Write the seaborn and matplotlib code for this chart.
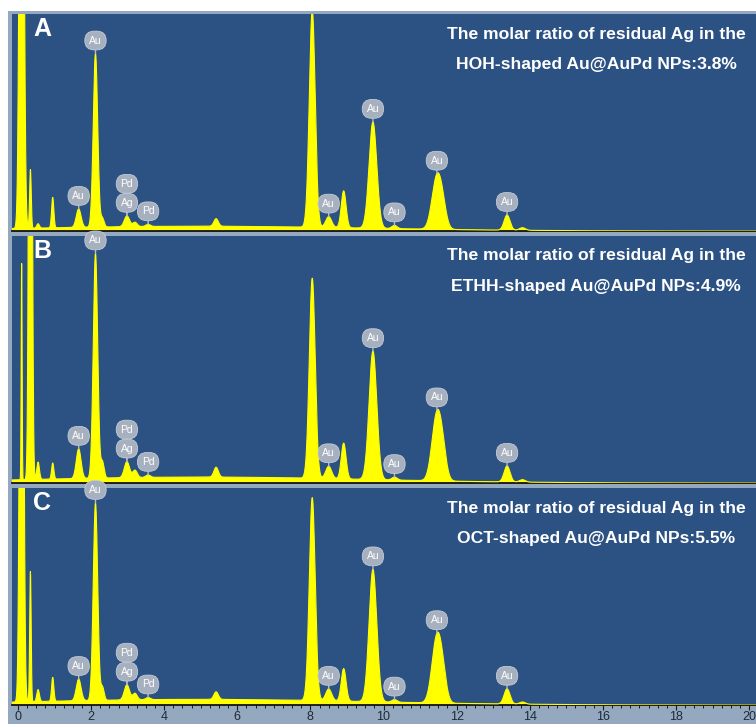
import numpy as np
import pandas as pd
import matplotlib
matplotlib.use("Agg")
import matplotlib.pyplot as plt
from matplotlib.patches import Rectangle
from matplotlib.ticker import MultipleLocator
import seaborn as sns

# ---------------- data ----------------
# X-ray lines in the EDS spectra (keV)
peak_energy = [0.10, 0.34, 0.55, 0.95, 1.66, 2.12, 2.31, 2.98, 3.20, 3.56,
               5.42, 8.05, 8.50, 8.91, 9.71, 10.30, 11.44, 11.60, 13.38, 13.80]
# peak widths (sigma, keV); the two lowest lines differ per panel
peak_sigma = [None, None, 0.035, 0.03, 0.065, 0.06, 0.045, 0.07, 0.06, 0.06,
              0.06, 0.08, 0.08, 0.065, 0.105, 0.07, 0.125, 0.11, 0.08, 0.08]
low_sigma_A = [0.05, 0.022]
low_sigma_B = [0.012, 0.037]
low_sigma_C = [0.045, 0.02]

# peak heights (counts, panel full scale = 1000)
heights_A = [4000, 270, 20, 140, 85, 800, 40, 50, 20, 10,
             35, 1000, 50, 170, 490, 15, 210, 110, 70, 12]
heights_B = [875, 4000, 70, 65, 120, 910, 65, 65, 30, 10,
             40, 810, 50, 145, 520, 12, 235, 120, 65, 10]
heights_C = [4000, 600, 55, 110, 100, 910, 60, 70, 30, 10,
             35, 935, 55, 150, 610, 12, 265, 135, 70, 10]
# continuum (bremsstrahlung) level, counts
continuum_A = 22
continuum_B = 24
continuum_C = 26

# peak identification labels
label_energy = [1.66, 2.12, 2.98, 2.98, 3.56, 8.50, 9.71, 10.30, 11.46, 13.38]
label_element = ["Au", "Au", "Ag", "Pd", "Pd", "Au", "Au", "Au", "Au", "Au"]

panel_letters = ["A", "B", "C"]
ratio_line1 = "The molar ratio of residual Ag in the"
ratio_line2 = ["HOH-shaped Au@AuPd NPs:3.8%",
               "ETHH-shaped Au@AuPd NPs:4.9%",
               "OCT-shaped Au@AuPd NPs:5.5%"]

x_ticks = list(range(0, 21, 2))

# ---------------- style ----------------
sns.set_theme(style="white")
plt.rcParams["font.family"] = ["Liberation Sans", "DejaVu Sans"]

W, H = 756, 724
fig = plt.figure(figsize=(W / 100, H / 100), dpi=100)
fig.patch.set_facecolor("white")
fig.add_artist(Rectangle((8 / W, 0), 1 - 8 / W, 1 - 11 / H,
                         transform=fig.transFigure, facecolor="#94a8bf",
                         edgecolor="none", zorder=0))

PANEL_BG = "#2c5283"
YELLOW = "#ffff00"

# panel pixel extents (top, bottom)
panel_px = [(14, 231), (236, 483), (488, 705)]
left_px = 12
xlim = (-0.164, 20.19)

energy = np.linspace(-0.2, 20.3, 4101)


def spectrum(e, heights, low_sigma, cont):
    e = np.asarray(e, dtype=float)
    y = cont * np.exp(-((e - 5.0) ** 2) / (2 * 4.5 ** 2))
    for i, (E, h) in enumerate(zip(peak_energy, heights)):
        s = low_sigma[i] if i < 2 else peak_sigma[i]
        y = y + h * np.exp(-((e - E) ** 2) / (2 * s ** 2))
    return y


panels = [
    (heights_A, low_sigma_A, continuum_A),
    (heights_B, low_sigma_B, continuum_B),
    (heights_C, low_sigma_C, continuum_C),
]

axes = []
for k, ((top, bot), (hts, lows, cont)) in enumerate(zip(panel_px, panels)):
    ax = fig.add_axes([left_px / W, 1 - bot / H, 1 - left_px / W, (bot - top) / H])
    axes.append(ax)
    ax.set_facecolor(PANEL_BG)
    counts = spectrum(energy, hts, lows, cont)
    df = pd.DataFrame({"energy": energy, "counts": counts})
    ax.fill_between(df["energy"], 0, df["counts"], color=YELLOW, lw=0, zorder=2)
    sns.lineplot(data=df, x="energy", y="counts", ax=ax, color=YELLOW,
                 lw=0.8, estimator=None, zorder=3)
    ax.set_xlim(*xlim)
    ax.set_ylim(0, 1000)
    ax.set_xlabel("")
    ax.set_ylabel("")
    ax.set_yticks([])
    for sp in ["top", "right", "left"]:
        ax.spines[sp].set_visible(False)
    ax.spines["bottom"].set_color("#111111")
    ax.spines["bottom"].set_linewidth(1.3)

    # panel letter
    ax.annotate(panel_letters[k], xy=(0, 1), xycoords="axes fraction",
                xytext=(30, -15), textcoords="offset pixels",
                ha="center", va="center", fontsize=18, fontweight="bold",
                color="white", zorder=6)
    # ratio text
    ax.annotate(ratio_line1, xy=(0.785, 1), xycoords="axes fraction",
                xytext=(0, -20), textcoords="offset pixels",
                ha="center", va="center", fontsize=12.6, fontweight="bold",
                color="white", zorder=6)
    ax.annotate(ratio_line2[k], xy=(0.785, 1), xycoords="axes fraction",
                xytext=(0, -51), textcoords="offset pixels",
                ha="center", va="center", fontsize=12.6, fontweight="bold",
                color="white", zorder=6)

    # peak labels (bubbles)
    seen = {}
    for E, el in zip(label_energy, label_element):
        stack = seen.get(E, 0)
        seen[E] = stack + 1
        yv = float(spectrum([E], hts, lows, cont)[0])
        ax.annotate(el, xy=(E, yv), xycoords="data",
                    xytext=(0, 13 + 19 * stack), textcoords="offset pixels",
                    ha="center", va="center", fontsize=7.5, color="white",
                    zorder=8 - stack,
                    bbox=dict(boxstyle="round,pad=0.42,rounding_size=0.9",
                              fc="#a6b0be", ec="#c4ccd6", lw=0.6),
                    arrowprops=dict(arrowstyle="-", color="#b3bdc9", lw=1.0,
                                    shrinkA=0, shrinkB=0))

    if k < 2:
        ax.set_xticks([])
    else:
        ax.set_xticks(x_ticks)
        ax.set_xticklabels([str(t) for t in x_ticks])
        ax.xaxis.set_minor_locator(MultipleLocator(0.25))
        ax.tick_params(axis="x", which="major", direction="out", length=3.5,
                       width=0.8, color="#1a1a1a", labelsize=9,
                       labelcolor="#1e2a38", pad=1, bottom=True)
        ax.tick_params(axis="x", which="minor", direction="out", length=2.2,
                       width=0.7, color="#1a1a1a", bottom=True)

fig.savefig("out.png", dpi=100, facecolor=fig.get_facecolor())
